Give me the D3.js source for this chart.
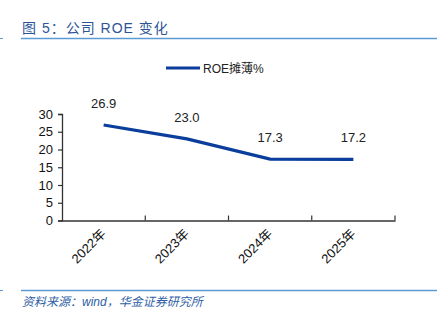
<!DOCTYPE html>
<html><head><meta charset="utf-8">
<script src="https://cdn.jsdelivr.net/npm/d3@7"></script>
<style>body{margin:0;background:#fff}</style>
</head><body>
<svg id="c" width="444" height="324"></svg>
<script>
const categories = ["2022年","2023年","2024年","2025年"];
const roeValues = [26.9, 23.0, 17.3, 17.2];
const yTicks = [0,5,10,15,20,25,30];
const seriesName = "ROE摊薄%";
const titleText = "图 5：公司 ROE 变化";
const sourceText = "资料来源：wind，华金证券研究所";

const svg = d3.select("#c");
const font = "'Liberation Sans', Arial, 'Noto Sans CJK SC', sans-serif";
const lineColor = "#0b3d9c";

// header
svg.append("line").attr("x1",0).attr("x2",3).attr("y1",38.5).attr("y2",38.5).attr("stroke","#5b9bd5").attr("stroke-width",1);
svg.append("line").attr("x1",21).attr("x2",437).attr("y1",38.5).attr("y2",38.5).attr("stroke","#5b9bd5").attr("stroke-width",1.3);
svg.append("text").attr("x",22).attr("y",33).text(titleText)
  .attr("font-family",font).attr("font-size",14).attr("fill","#2c5597").attr("letter-spacing",1);

// footer
svg.append("line").attr("x1",0).attr("x2",3).attr("y1",290.5).attr("y2",290.5).attr("stroke","#5b9bd5").attr("stroke-width",1);
svg.append("line").attr("x1",21).attr("x2",437).attr("y1",290.5).attr("y2",290.5).attr("stroke","#5b9bd5").attr("stroke-width",1.3);
svg.append("text").attr("x",22).attr("y",306).text(sourceText)
  .attr("font-family",font).attr("font-size",12).attr("font-style","italic").attr("fill","#2f5fa5");

const x = d3.scaleBand().domain(categories).range([62,395]);
const y = d3.scaleLinear().domain([0,30]).range([220.5,114]);

const gy = svg.append("g").attr("transform","translate(62,0)")
  .call(d3.axisLeft(y).tickValues(yTicks).tickSize(4).tickPadding(5));
const gx = svg.append("g").attr("transform","translate(0,220.5)")
  .call(d3.axisBottom(x).tickSize(0).tickFormat(d=>d));
// x ticks at band edges (upward like reference)
const edges = categories.map(c=>x(c)).concat([x.range()[1]]);
gx.selectAll(".edge").data(edges.slice(1)).enter().append("line")
  .attr("x1",d=>d).attr("x2",d=>d).attr("y1",0).attr("y2",-5).attr("stroke","#333").attr("stroke-width",1.2);

[gx,gy].forEach(g=>{
  g.select(".domain").attr("stroke","#333").attr("stroke-width",1.3);
  g.selectAll(".tick line").attr("stroke","#333").attr("stroke-width",1.2);
  g.selectAll("text").attr("font-family",font).attr("font-size",13).attr("fill","#111");
});
gx.selectAll(".tick text")
  .attr("text-anchor","end").attr("dy",0).attr("y",0)
  .attr("transform","translate(3,14) rotate(-45)");

const line = d3.line().x(d=>x(d.c)+x.bandwidth()/2).y(d=>y(d.v));
const data = categories.map((c,i)=>({c,v:roeValues[i]}));
svg.append("path").datum(data).attr("d",line).attr("fill","none")
  .attr("stroke",lineColor).attr("stroke-width",3.2);

svg.selectAll(".lbl").data(data).enter().append("text")
  .attr("x",d=>x(d.c)+x.bandwidth()/2).attr("y",d=>y(d.v)-17)
  .attr("text-anchor","middle").text(d=>d.v.toFixed(1))
  .attr("font-family",font).attr("font-size",13).attr("fill","#222");

// legend
svg.append("line").attr("x1",166).attr("x2",200).attr("y1",68).attr("y2",68)
  .attr("stroke",lineColor).attr("stroke-width",3.2);
svg.append("text").attr("x",203).attr("y",72.5).text(seriesName)
  .attr("font-family",font).attr("font-size",12).attr("fill","#222");
</script>
</body></html>
